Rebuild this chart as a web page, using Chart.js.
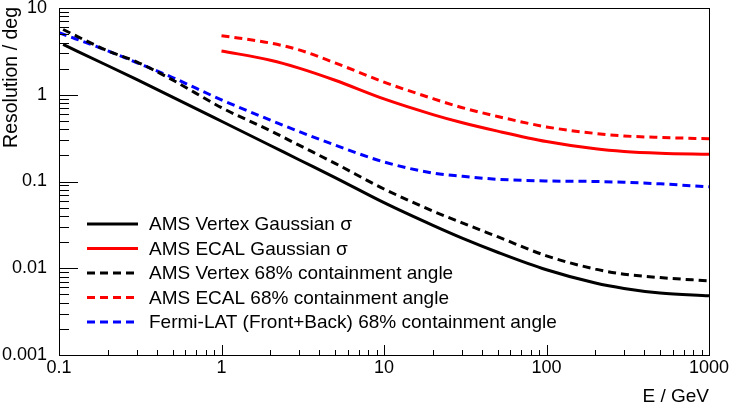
<!DOCTYPE html>
<html>
<head>
<meta charset="utf-8">
<script src="https://cdn.jsdelivr.net/npm/chart.js@4.4.1/dist/chart.umd.min.js"></script>
<style>
  html, body { margin: 0; padding: 0; background: #fff; }
  #wrap { width: 747px; height: 409px; }
</style>
</head>
<body>
<div id="wrap"><canvas id="resChart" width="747" height="409"></canvas></div>
<script>
// energies in GeV
const energyVertex = [0.106, 0.2, 0.3, 0.5, 1, 2, 3, 5, 10, 20, 30, 50, 100, 200, 300, 500, 1000];
const vertexSigma  = [3.8, 2.16, 1.5, 0.94, 0.495, 0.26, 0.178, 0.111, 0.057, 0.0312, 0.0224, 0.0153, 0.0096, 0.00675, 0.00585, 0.00518, 0.00481];
const vertex68     = [5.65, 3.2, 2.4, 1.48, 0.71, 0.385, 0.262, 0.162, 0.082, 0.0456, 0.0336, 0.0231, 0.0139, 0.00977, 0.00855, 0.0078, 0.00716];

const energyEcal = [1, 2, 3, 5, 10, 20, 30, 50, 100, 200, 300, 500, 1000];
const ecalSigma  = [3.2, 2.5, 2.03, 1.47, 0.895, 0.591, 0.479, 0.381, 0.289, 0.238, 0.222, 0.212, 0.206];
const ecal68     = [4.8, 3.94, 3.29, 2.33, 1.4, 0.902, 0.714, 0.562, 0.426, 0.358, 0.335, 0.322, 0.311];

const energyFermi = [0.1, 0.2, 0.3, 0.5, 1, 2, 3, 5, 10, 20, 30, 50, 100, 200, 300, 500, 1000];
const fermi68     = [5.19, 3.2, 2.35, 1.58, 0.874, 0.51, 0.376, 0.263, 0.168, 0.125, 0.115, 0.106, 0.1015, 0.1, 0.098, 0.094, 0.0867];

const xTickValues = [0.1, 1, 10, 100, 1000];
const yTickValues = [0.001, 0.01, 0.1, 1, 10];

const fontFamily = '"Liberation Sans", Arial, Helvetica, sans-serif';

function toPoints(xs, ys) {
    return xs.map((v, i) => ({ x: v, y: ys[i] }));
}

function makeSet(label, xs, ys, color, dashed) {
    return {
        label: label,
        data: toPoints(xs, ys),
        borderColor: color,
        backgroundColor: color,
        borderWidth: 3,
        borderDash: dashed ? [8, 5] : [],
        pointRadius: 0,
        fill: false,
        cubicInterpolationMode: 'monotone'
    };
}

// ROOT-like frame, inner ticks, titles and legend
const rootStyle = {
    id: 'rootStyle',
    afterDatasetsDraw(chart) {
        const ctx = chart.ctx;
        const a = chart.chartArea;
        const xs = chart.scales.x;
        const ys = chart.scales.y;
        ctx.save();
        ctx.strokeStyle = '#000';
        ctx.lineWidth = 1;
        ctx.setLineDash([]);
        ctx.beginPath();
        // x ticks
        for (let e = -1; e <= 3; e++) {
            for (let m = 1; m <= 9; m++) {
                if (e === 3 && m > 1) break;
                const v = m * Math.pow(10, e);
                const px = Math.round(xs.getPixelForValue(v)) + 0.5;
                const len = m === 1 ? 10 : 5;
                ctx.moveTo(px, a.bottom);
                ctx.lineTo(px, a.bottom - len);
            }
        }
        // y ticks
        for (let e = -3; e <= 1; e++) {
            for (let m = 1; m <= 9; m++) {
                if (e === 1 && m > 1) break;
                const v = m * Math.pow(10, e);
                const py = Math.round(ys.getPixelForValue(v)) + 0.5;
                const len = m === 1 ? 19 : 10;
                ctx.moveTo(a.left, py);
                ctx.lineTo(a.left + len, py);
            }
        }
        ctx.stroke();
        ctx.strokeRect(Math.round(a.left) + 0.5, Math.round(a.top) + 0.5,
                       Math.round(a.right - a.left), Math.round(a.bottom - a.top));

        // axis titles
        ctx.fillStyle = '#000';
        ctx.font = '19px ' + fontFamily;
        ctx.textAlign = 'right';
        ctx.textBaseline = 'alphabetic';
        ctx.fillText('E / GeV', a.right, 402);
        ctx.save();
        ctx.font = '19.5px ' + fontFamily;
        ctx.translate(17, a.top - 1);
        ctx.rotate(-Math.PI / 2);
        ctx.textAlign = 'right';
        ctx.fillText('Resolution / deg', 0, 0);
        ctx.restore();

        // legend
        const rowY0 = 224;
        const rowStep = 24.5;
        ctx.font = '19px ' + fontFamily;
        chart.data.datasets.forEach((ds, i) => {
            const yRow = rowY0 + i * rowStep;
            ctx.strokeStyle = ds.borderColor;
            ctx.lineWidth = 3;
            ctx.setLineDash(ds.borderDash);
            ctx.beginPath();
            ctx.moveTo(87, yRow);
            ctx.lineTo(138, yRow);
            ctx.stroke();
            ctx.setLineDash([]);
            ctx.fillStyle = '#000';
            ctx.textAlign = 'left';
            ctx.textBaseline = 'middle';
            ctx.fillText(ds.label, 149, yRow + 1);
        });
        ctx.restore();
    }
};

const ctx = document.getElementById('resChart');

const data = {
    datasets: [
        makeSet('AMS Vertex Gaussian σ', energyVertex, vertexSigma, '#000000', false),
        makeSet('AMS ECAL Gaussian σ', energyEcal, ecalSigma, '#ff0000', false),
        makeSet('AMS Vertex 68% containment angle', energyVertex, vertex68, '#000000', true),
        makeSet('AMS ECAL 68% containment angle', energyEcal, ecal68, '#ff0000', true),
        makeSet('Fermi-LAT (Front+Back) 68% containment angle', energyFermi, fermi68, '#0000ff', true)
    ]
};

const options = {
    responsive: false,
    animation: false,
    layout: { padding: { top: 8, right: 38, left: 0, bottom: 0 } },
    plugins: {
        legend: { display: false },
        tooltip: { enabled: false }
    },
    scales: {
        x: {
            type: 'logarithmic',
            min: 0.1,
            max: 1000,
            grid: { display: false },
            border: { display: false },
            afterBuildTicks: (scale) => { scale.ticks = xTickValues.map(v => ({ value: v })); },
            afterFit: (scale) => {
                scale.height = 54;
                scale.paddingLeft = 0;
                scale.paddingRight = 0;
            },
            ticks: {
                autoSkip: false,
                maxRotation: 0,
                padding: -6,
                color: '#000',
                font: { family: fontFamily, size: 18 },
                callback: (v) => String(v)
            }
        },
        y: {
            type: 'logarithmic',
            min: 0.001,
            max: 10,
            grid: { display: false },
            border: { display: false },
            afterBuildTicks: (scale) => { scale.ticks = yTickValues.map(v => ({ value: v })); },
            afterFit: (scale) => {
                scale.width = 59;
                scale.paddingTop = 0;
                scale.paddingBottom = 0;
            },
            ticks: {
                autoSkip: false,
                padding: 4,
                color: '#000',
                font: { family: fontFamily, size: 18 },
                callback: (v) => String(v)
            }
        }
    }
};

const resChart = new Chart(ctx, {
    type: 'line',
    data: data,
    options: options,
    plugins: [rootStyle]
});
</script>
</body>
</html>
